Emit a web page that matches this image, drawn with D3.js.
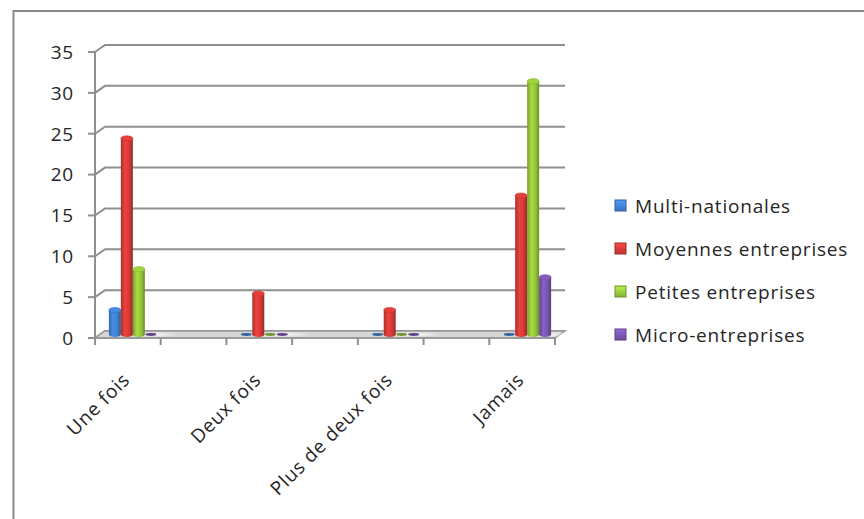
<!DOCTYPE html>
<html>
<head>
<meta charset="utf-8">
<script src="https://cdn.jsdelivr.net/npm/d3@7/dist/d3.min.js"></script>
<style>
  html, body { margin: 0; padding: 0; background: #fff; }
  svg { display: block; }
  text { font-family: "Open Sans", Lato, sans-serif; fill: #262626; letter-spacing: 0.8px; }
</style>
</head>
<body>
<svg id="chart" width="864" height="519"></svg>
<script>
// Category slots along the floor (empty slots have no data)
const categories = ["Une fois", "", "Deux fois", "", "Plus de deux fois", "", "Jamais"];
const seriesNames = ["Multi-nationales", "Moyennes entreprises", "Petites entreprises", "Micro-entreprises"];
const multiNationales     = [3,  null, 0, null, 0, null, 0];
const moyennesEntreprises = [24, null, 5, null, 3, null, 17];
const petitesEntreprises  = [8,  null, 0, null, 0, null, 31];
const microEntreprises    = [0,  null, 0, null, 0, null, 7];
const yTicks = [0, 5, 10, 15, 20, 25, 30, 35];
const seriesColors = ["#3f7fcf", "#d23a36", "#94c43a", "#7a55ad"];

const seriesValues = [multiNationales, moyennesEntreprises, petitesEntreprises, microEntreprises];

const svg = d3.select("#chart");
const W = 864, H = 519;

// outer frame
svg.append("path")
  .attr("d", `M13.5,${H} L13.5,11 L${W},11`)
  .attr("fill", "none").attr("stroke", "#8a8a8a").attr("stroke-width", 2);

// front-plane geometry
const x0 = 95, x1 = 555, yBase = 338, yTop = 52;
const depthX = 10, depthY = -7;          // back wall offset
const midX = depthX / 2, midY = depthY / 2; // bar row sits halfway into the depth

const x = d3.scaleBand().domain(d3.range(categories.length)).range([x0, x1]).padding(0);
const xs = d3.scaleBand().domain(seriesNames).range([0, x.bandwidth()]).paddingInner(0).paddingOuter(0.74);
const y = d3.scaleLinear().domain([0, 35]).range([yBase, yTop]);

const defs = svg.append("defs");
seriesColors.forEach((c, i) => {
  const base = d3.color(c);
  const g = defs.append("linearGradient").attr("id", "cyl" + i)
    .attr("x1", "0%").attr("x2", "100%").attr("y1", "0%").attr("y2", "0%");
  g.append("stop").attr("offset", "0%").attr("stop-color", base.darker(0.6));
  g.append("stop").attr("offset", "35%").attr("stop-color", base.brighter(0.35));
  g.append("stop").attr("offset", "70%").attr("stop-color", base);
  g.append("stop").attr("offset", "100%").attr("stop-color", base.darker(0.9));
  const s = defs.append("linearGradient").attr("id", "leg" + i)
    .attr("x1", "0%").attr("x2", "0%").attr("y1", "0%").attr("y2", "100%");
  s.append("stop").attr("offset", "0%").attr("stop-color", base.brighter(0.6));
  s.append("stop").attr("offset", "100%").attr("stop-color", base.darker(0.3));
});
// soft light patch cast onto the floor beside each cluster
const glow = defs.append("radialGradient").attr("id", "floorGlow");
glow.append("stop").attr("offset", "0%").attr("stop-color", "#ffffff").attr("stop-opacity", 0.95);
glow.append("stop").attr("offset", "100%").attr("stop-color", "#ffffff").attr("stop-opacity", 0);

const grid = svg.append("g");
// back-wall gridlines and side-wall slants
yTicks.forEach(t => {
  const yy = y(t);
  grid.append("path")
    .attr("d", `M${x0},${yy} L${x0 + depthX},${yy + depthY} L${x1 + depthX},${yy + depthY}`)
    .attr("fill", "none").attr("stroke", "#8f8f8f").attr("stroke-width", 2);
});

// floor
svg.append("path")
  .attr("d", `M${x0},${yBase} L${x0 + depthX},${yBase + depthY} L${x1 + depthX},${yBase + depthY} L${x1},${yBase} Z`)
  .attr("fill", "#d6d6d6").attr("stroke", "#9a9a9a").attr("stroke-width", 1.5);
categories.forEach((cat, ci) => {
  if (!cat) return;
  svg.append("ellipse")
    .attr("cx", x(ci) + x.bandwidth() * 0.75 + midX).attr("cy", yBase + midY)
    .attr("rx", x.bandwidth() * 0.45).attr("ry", 3)
    .attr("fill", "url(#floorGlow)");
});

// cylinders
const bars = svg.append("g");
categories.forEach((cat, ci) => {
  seriesNames.forEach((name, si) => {
    const v = seriesValues[si][ci];
    if (v === null || v === undefined) return;
    const bx = x(ci) + xs(name) + midX;
    const bw = xs.bandwidth();
    const cx = bx + bw / 2;
    const yb = y(0) + midY, yt = y(v) + midY;
    const ry = 2.6;
    const col = d3.color(seriesColors[si]);
    if (v === 0) {
      bars.append("ellipse").attr("cx", cx).attr("cy", yb).attr("rx", bw / 2 - 0.5).attr("ry", 1.4)
        .attr("fill", col.darker(0.7));
      return;
    }
    bars.append("path")
      .attr("d", `M${bx},${yt} L${bx},${yb} A${bw / 2},${ry} 0 0 0 ${bx + bw},${yb} L${bx + bw},${yt} Z`)
      .attr("fill", `url(#cyl${si})`);
    bars.append("ellipse").attr("cx", cx).attr("cy", yt).attr("rx", bw / 2).attr("ry", ry)
      .attr("fill", col.brighter(0.25)).attr("stroke", col.darker(0.2)).attr("stroke-width", 0.6);
  });
});

// value axis
const yAxisG = svg.append("g");
yAxisG.append("line").attr("x1", x0).attr("x2", x0).attr("y1", y(35)).attr("y2", yBase)
  .attr("stroke", "#8f8f8f").attr("stroke-width", 2);
yTicks.forEach(t => {
  yAxisG.append("line").attr("x1", x0 - 7).attr("x2", x0).attr("y1", y(t)).attr("y2", y(t))
    .attr("stroke", "#8f8f8f").attr("stroke-width", 2);
  yAxisG.append("text").attr("x", 74).attr("y", y(t)).attr("dy", "0.36em")
    .attr("text-anchor", "end").attr("font-size", 19).text(t);
});

// category axis
const xAxisG = svg.append("g");
xAxisG.append("line").attr("x1", x0).attr("x2", x1).attr("y1", yBase).attr("y2", yBase)
  .attr("stroke", "#9a9a9a").attr("stroke-width", 2);
d3.range(categories.length + 1).forEach(i => {
  const xx = i < categories.length ? x(i) : x1;
  xAxisG.append("line").attr("x1", xx).attr("x2", xx).attr("y1", yBase).attr("y2", yBase + 7)
    .attr("stroke", "#8f8f8f").attr("stroke-width", 2);
});
categories.forEach((cat, ci) => {
  if (!cat) return;
  const ax = x(ci) + x.bandwidth() / 2 + 3, ay = 381;
  xAxisG.append("text")
    .attr("transform", `translate(${ax},${ay}) rotate(-45)`)
    .attr("text-anchor", "end").attr("font-size", 19).text(cat);
});

// legend
const legend = svg.append("g");
seriesNames.forEach((name, i) => {
  const ly = 206 + i * 43;
  legend.append("rect").attr("x", 615).attr("y", ly - 6).attr("width", 11).attr("height", 11)
    .attr("fill", `url(#leg${i})`).attr("stroke", d3.color(seriesColors[i]).darker(0.8)).attr("stroke-width", 1);
  legend.append("text").attr("x", 635).attr("y", ly).attr("dy", "0.36em")
    .attr("font-size", 19).text(name);
});
</script>
</body>
</html>
